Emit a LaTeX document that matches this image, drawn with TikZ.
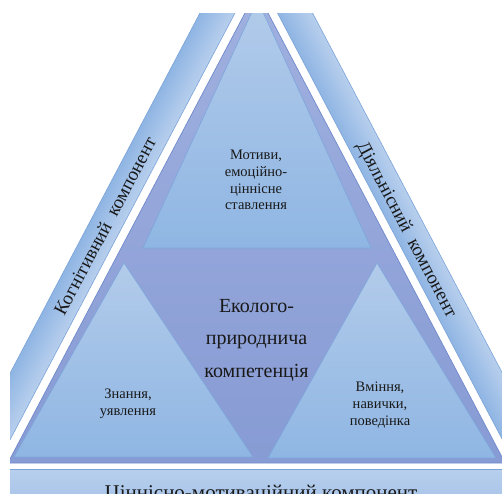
\documentclass[tikz,border=0pt]{standalone}
\usepackage{fontspec}
\setmainfont{Liberation Serif}
\definecolor{bandlight}{RGB}{184,207,237}
\definecolor{banddark}{RGB}{143,181,227}
\definecolor{bandedge}{RGB}{122,163,217}
\definecolor{purtop}{RGB}{160,176,223}
\definecolor{purbot}{RGB}{135,155,212}
\definecolor{puredge}{RGB}{112,138,205}
\definecolor{tritop}{RGB}{178,203,234}
\definecolor{tribot}{RGB}{143,182,227}
\definecolor{triedge}{RGB}{125,166,220}
\definecolor{inktext}{RGB}{25,25,25}
\begin{document}
\begin{tikzpicture}[x=1pt,y=-1pt,
  bandshape/.style={draw=bandedge,line width=0.6pt},
  tri/.style={top color=tritop,bottom color=tribot,draw=triedge,line width=0.6pt},
  small/.style={font=\fontsize{14.5}{16.8}\selectfont,align=center,text=inktext,inner sep=0pt},
  big/.style={font=\fontsize{20}{32.5}\selectfont,align=center,text=inktext,inner sep=0pt},
  bandtext/.style={font=\fontsize{19}{22}\selectfont,text=inktext,inner sep=0pt}]
\useasboundingbox (0,0) rectangle (502,493);
\fill[white] (0,0) rectangle (502,493);
\begin{scope}
\clip (10,13) rectangle (502,493);
% left band
\begin{scope}[overlay,transform canvas={shift={(105.2,226)},rotate=62.2}]
  \shade[bandshape,top color=banddark,bottom color=bandlight] (-300,-15.5) rectangle (300,15.5);
\end{scope}
% right band
\begin{scope}[overlay,transform canvas={shift={(407.3,226)},rotate=-62.2}]
  \shade[bandshape,top color=bandlight,bottom color=banddark] (-300,-15.5) rectangle (300,15.5);
\end{scope}
% bottom band
\shade[bandshape,top color=bandlight,bottom color=banddark!80!bandlight] (0,469) rectangle (510,530);
% purple triangle
\shade[top color=purtop,bottom color=purbot,draw=puredge,line width=0.7pt]
  (256.5,-8.8) -- (7.85,463) -- (505.15,463) -- cycle;
% inner triangles
\shade[tri] (257.5,0) -- (143,248) -- (371,248) -- cycle;
\shade[tri] (124,263) -- (14,457) -- (253,457) -- cycle;
\shade[tri] (377,263) -- (268,458) -- (496,458) -- cycle;
% texts
\node[big] (eco) at (256.5,340) {Еколого-\\природнича\\компетенція};
\node[small] (mot) at (256,180) {Мотиви,\\емоційно-\\ціннісне\\ставлення};
\node[small] (zn) at (128,404) {Знання,\\уявлення};
\node[small] (vm) at (380,405) {Вміння,\\навички,\\поведінка};
\node[bandtext,rotate=62.2] (kog) at (105,226) {Когнітивний\ \ компонент};
\node[bandtext,rotate=-62.2] (dial) at (406,230) {Діяльнісний\ \ компонент};
\node[font=\fontsize{21}{24}\selectfont,text=inktext,inner sep=0pt,anchor=base] (cmk) at (261,499) {Ціннісно-мотиваційний компонент};
\end{scope}
\end{tikzpicture}
\end{document}
